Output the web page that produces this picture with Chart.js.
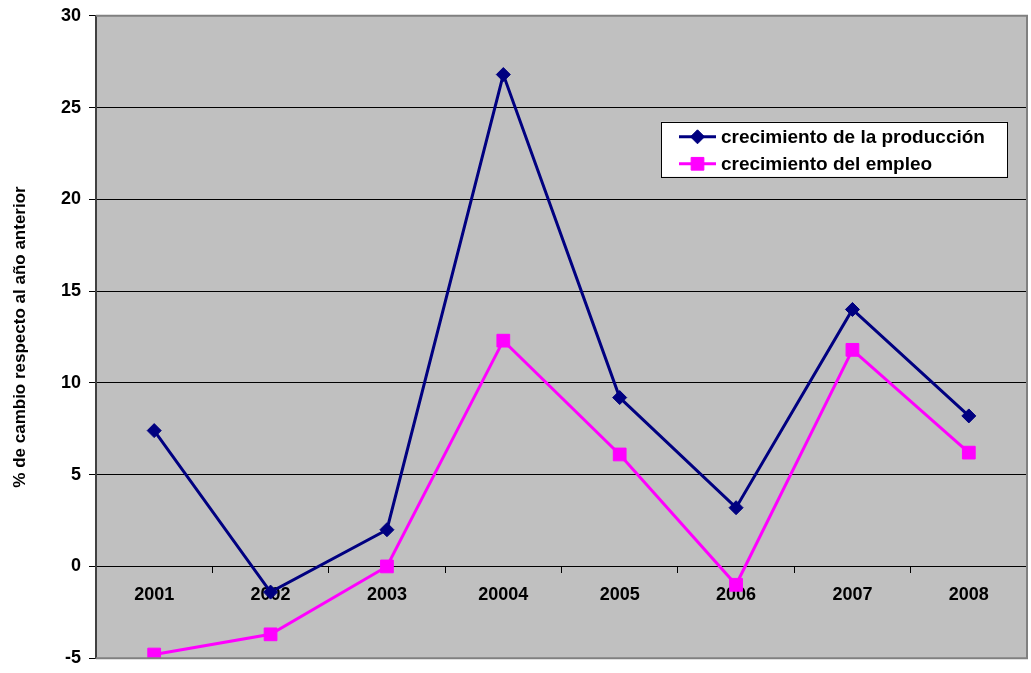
<!DOCTYPE html>
<html>
<head>
<meta charset="utf-8">
<script src="https://cdn.jsdelivr.net/npm/chart.js@4.4.1/dist/chart.umd.min.js"></script>
<style>
  html, body { margin: 0; padding: 0; background: #fff; overflow: hidden; }
  #frame { width: 1031px; height: 673px; position: relative; overflow: hidden; }
  #wrap { width: 1037px; height: 680px; position: absolute; left: 0; top: -3px; }
</style>
</head>
<body>
<div id="frame"><div id="wrap"><canvas id="chart"></canvas></div></div>
<script>
// ---- data ----
const years = ["2001", "2002", "2003", "20004", "2005", "2006", "2007", "2008"];
const produccion = [7.4, -1.4, 2.0, 26.8, 9.2, 3.2, 14.0, 8.2];
const empleo = [-4.8, -3.7, 0.0, 12.3, 6.1, -1.0, 11.8, 6.2];
const yTicks = [-5, 0, 5, 10, 15, 20, 25, 30];

const FONT = "'Liberation Sans', Arial, sans-serif";

// gray plot area + border
const plotArea = {
  id: "plotArea",
  beforeDraw(chart) {
    const { ctx, chartArea: a } = chart;
    ctx.save();
    ctx.fillStyle = "#c0c0c0";
    ctx.fillRect(a.left, a.top, a.right - a.left, a.bottom - a.top);
    ctx.restore();
  },
  afterDraw(chart) {
    const { ctx, chartArea: a } = chart;
    ctx.save();
    ctx.strokeStyle = "#808080";
    ctx.lineWidth = 2;
    ctx.beginPath();
    ctx.moveTo(a.left, a.top);
    ctx.lineTo(a.right, a.top);
    ctx.lineTo(a.right, a.bottom);
    ctx.lineTo(a.left, a.bottom);
    ctx.stroke();
    ctx.restore();
  }
};

// legend box inside the plot, anchored to the top right of the chart area
const boxLegend = {
  id: "boxLegend",
  afterDraw(chart) {
    const { ctx, chartArea: a } = chart;
    const x = a.right - 366, y = a.top + 106, w = 346, h = 55;
    ctx.save();
    ctx.fillStyle = "#fff";
    ctx.fillRect(x, y, w, h);
    ctx.strokeStyle = "#000";
    ctx.lineWidth = 1;
    ctx.strokeRect(Math.round(x) + 0.5, Math.round(y) + 0.5, w, h);
    chart.data.datasets.forEach((ds, i) => {
      const cy = y + 15 + i * 27;
      ctx.strokeStyle = ds.borderColor;
      ctx.lineWidth = 3;
      ctx.beginPath();
      ctx.moveTo(x + 18, cy);
      ctx.lineTo(x + 55, cy);
      ctx.stroke();
      ctx.fillStyle = ds.pointBackgroundColor;
      ctx.strokeStyle = ds.pointBorderColor;
      ctx.lineWidth = 1;
      Chart.helpers.drawPoint(ctx, { pointStyle: ds.pointStyle, radius: ds.pointRadius, borderWidth: 1 }, x + 36.5, cy);
      ctx.fillStyle = "#000";
      ctx.font = "bold 19px " + FONT;
      ctx.textBaseline = "middle";
      ctx.fillText(ds.label, x + 60, cy + 1);
    });
    ctx.restore();
  }
};

new Chart(document.getElementById("chart"), {
  type: "line",
  data: {
    labels: years,
    datasets: [
      {
        label: "crecimiento de la producción",
        data: produccion,
        borderColor: "#000080",
        backgroundColor: "#000080",
        pointBackgroundColor: "#000080",
        pointBorderColor: "#000080",
        pointStyle: "rectRot",
        pointRadius: 7,
        pointBorderWidth: 1,
        borderWidth: 3,
        tension: 0
      },
      {
        label: "crecimiento del empleo",
        data: empleo,
        borderColor: "#ff00ff",
        backgroundColor: "#ff00ff",
        pointBackgroundColor: "#ff00ff",
        pointBorderColor: "#ff00ff",
        pointStyle: "rect",
        pointRadius: 9,
        pointBorderWidth: 1,
        borderWidth: 3,
        tension: 0
      }
    ]
  },
  options: {
    animation: false,
    responsive: true,
    maintainAspectRatio: false,
    layout: { padding: { top: 12, right: 4, bottom: 11, left: 0 } },
    plugins: { legend: { display: false }, tooltip: { enabled: false } },
    scales: {
      x: {
        position: { y: 0 },
        offset: true,
        grid: { offset: true, drawOnChartArea: false, tickLength: 6, color: "#000" },
        border: { color: "#000", width: 1 },
        ticks: { color: "#000", font: { family: FONT, size: 18, weight: "bold" }, padding: 12, maxRotation: 0 }
      },
      y: {
        min: -5,
        max: 30,
        afterFit: s => { s.width = 96; },
        afterBuildTicks: s => { s.ticks = yTicks.map(v => ({ value: v })); },
        grid: { color: "#000", lineWidth: 1, tickLength: 7 },
        border: { color: "#404040", width: 2 },
        ticks: { color: "#000", font: { family: FONT, size: 18, weight: "bold" }, padding: 8 },
        title: {
          display: true,
          text: "% de cambio respecto al año anterior",
          color: "#000",
          font: { family: FONT, size: 17, weight: "bold" },
          padding: { top: 10, bottom: 0 }
        }
      }
    }
  },
  plugins: [plotArea, boxLegend]
});
</script>
</body>
</html>
